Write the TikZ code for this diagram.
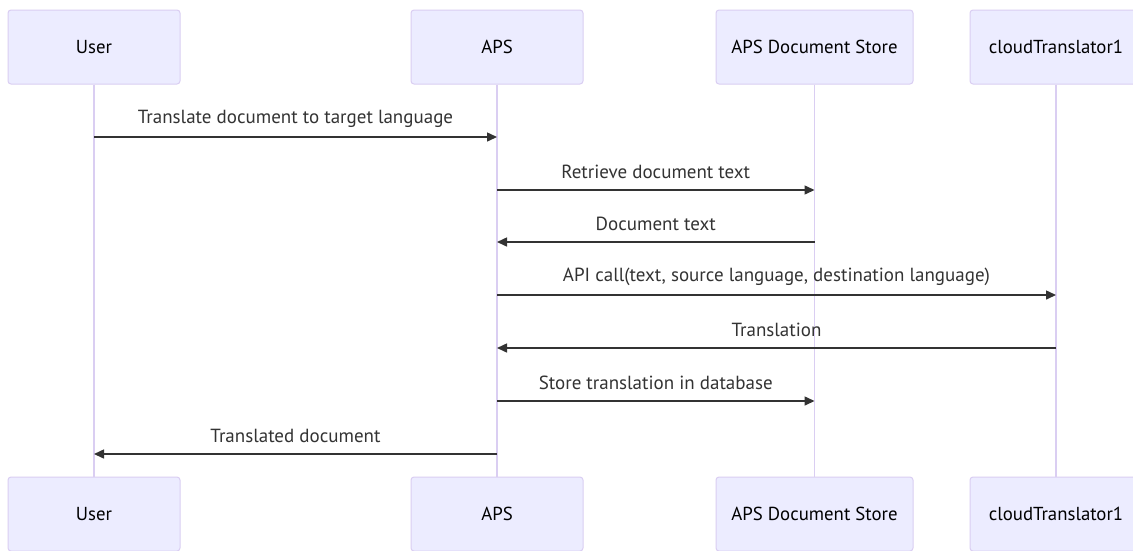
\documentclass[tikz,border=0pt]{standalone}
\usepackage{fontspec}
\setmainfont{PT Sans}
\usetikzlibrary{arrows.meta}
\definecolor{actorfill}{HTML}{ECECFF}
\definecolor{actorline}{HTML}{DACEF2}
\definecolor{msgline}{HTML}{333333}
\tikzset{
  actor/.style={draw=actorline, fill=actorfill, line width=1pt, rounded corners=3pt,
    minimum height=74pt, inner sep=0pt, text=black, font=\fontsize{18.8}{22}\selectfont},
  life/.style={draw=actorline, line width=1.2pt},
  msg/.style={draw=msgline, line width=1.5pt, -{Triangle[length=10pt,width=9pt]}},
  msglabel/.style={midway, yshift=18pt, text=msgline, inner sep=0pt, font=\fontsize{19}{22}\selectfont}
}
\begin{document}
\begin{tikzpicture}[x=1pt,y=-1pt]
\useasboundingbox (0,0) rectangle (1133,550);
\clip (0,0) rectangle (1133,550);
\fill[white] (0,0) rectangle (1133,550);

% participants, top row
\node[actor, minimum width=172pt] (uT) at (94,47) {User};
\node[actor, minimum width=172pt] (aT) at (497,47) {APS};
\node[actor, minimum width=197pt] (sT) at (814.5,47) {APS Document Store};
\node[actor, minimum width=172pt] (cT) at (1056,47) {cloudTranslator1};

% participants, bottom row
\node[actor, minimum width=172pt] (uB) at (94,514) {User};
\node[actor, minimum width=172pt] (aB) at (497,514) {APS};
\node[actor, minimum width=197pt] (sB) at (814.5,514) {APS Document Store};
\node[actor, minimum width=172pt] (cB) at (1056,514) {cloudTranslator1};

% lifelines
\draw[life] (uT) -- (uB);
\draw[life] (aT) -- (aB);
\draw[life] (sT) -- (sB);
\draw[life] (cT) -- (cB);

% message rows
\coordinate (m1) at (0,137);
\coordinate (m2) at (0,190);
\coordinate (m3) at (0,242);
\coordinate (m4) at (0,295);
\coordinate (m5) at (0,348);
\coordinate (m6) at (0,401);
\coordinate (m7) at (0,454);

\draw[msg] (uT |- m1) -- (aT |- m1) node[msglabel] {Translate document to target language};
\draw[msg] (aT |- m2) -- (sT |- m2) node[msglabel] {Retrieve document text};
\draw[msg] (sT |- m3) -- (aT |- m3) node[msglabel] {Document text};
\draw[msg] (aT |- m4) -- (cT |- m4) node[msglabel] {API call(text, source language, destination language)};
\draw[msg] (cT |- m5) -- (aT |- m5) node[msglabel] {Translation};
\draw[msg] (aT |- m6) -- (sT |- m6) node[msglabel] {Store translation in database};
\draw[msg] (aT |- m7) -- (uT |- m7) node[msglabel] {Translated document};
\end{tikzpicture}
\end{document}
